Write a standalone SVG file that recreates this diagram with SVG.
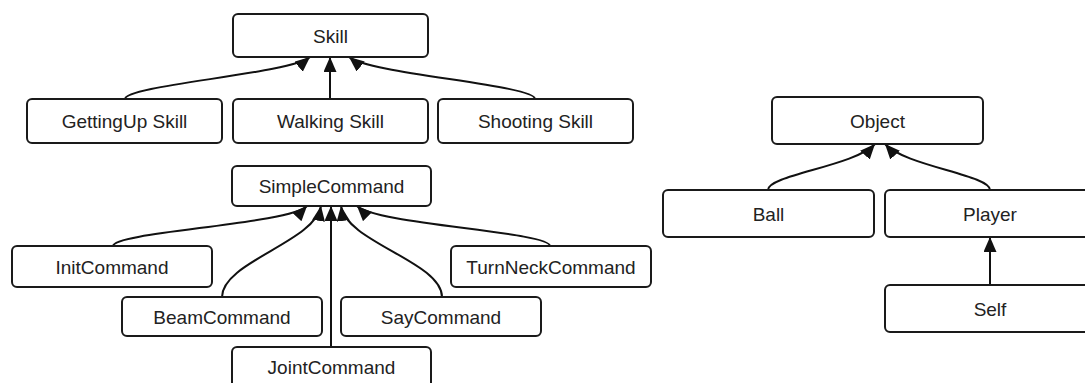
<svg xmlns="http://www.w3.org/2000/svg" width="1085" height="383" viewBox="0 0 1085 383">
<defs>
<marker id="arr" markerUnits="userSpaceOnUse" markerWidth="16" markerHeight="14" refX="15" refY="6.5" orient="auto">
<path d="M0,0 L15,6.5 L0,13 z" fill="#111"/>
</marker>
<style>
.box{fill:#fff;stroke:#1a1a1a;stroke-width:2}
.lbl{font-family:"Liberation Sans",Arial,sans-serif;font-size:19px;fill:#222;text-anchor:middle;dominant-baseline:central}
.con{fill:none;stroke:#111;stroke-width:2;marker-end:url(#arr)}
</style>
</defs>
<rect width="1085" height="383" fill="#fff"/>
<g id="connectors">
<path class="con" d="M125,99 C125,85 290,74 310,57"/>
<path class="con" d="M330,99 L330,57"/>
<path class="con" d="M535,99 C535,85 370,74 349,57"/>
<path class="con" d="M113,246 C113,232 290,224 307,206"/>
<path class="con" d="M222,297 C222,262 315,242 321,206"/>
<path class="con" d="M331,347 L331,206"/>
<path class="con" d="M442,297 C442,262 346,242 341,206"/>
<path class="con" d="M550,246 C550,232 375,224 357,206"/>
<path class="con" d="M768,190 C768,175 855,166 875,144"/>
<path class="con" d="M990,190 C990,175 905,166 885,144"/>
<path class="con" d="M990,285 L990,237"/>
</g>
<g id="skill"><rect class="box" x="233" y="14" width="195" height="43" rx="5"/><text class="lbl" x="330.5" y="36">Skill</text></g>
<g id="gettingup"><rect class="box" x="27" y="99" width="195" height="44" rx="5"/><text class="lbl" x="124.5" y="121">GettingUp Skill</text></g>
<g id="walking"><rect class="box" x="233" y="99" width="195" height="44" rx="5"/><text class="lbl" x="330.5" y="121">Walking Skill</text></g>
<g id="shooting"><rect class="box" x="438" y="99" width="195" height="44" rx="5"/><text class="lbl" x="535.5" y="121">Shooting Skill</text></g>
<g id="simplecommand"><rect class="box" x="232" y="166" width="199" height="40" rx="5"/><text class="lbl" x="331.5" y="186">SimpleCommand</text></g>
<g id="initcommand"><rect class="box" x="12" y="246" width="200" height="41" rx="5"/><text class="lbl" x="112" y="267">InitCommand</text></g>
<g id="turnneckcommand"><rect class="box" x="451" y="246" width="200" height="41" rx="5"/><text class="lbl" x="551" y="267">TurnNeckCommand</text></g>
<g id="beamcommand"><rect class="box" x="122" y="297" width="200" height="39" rx="5"/><text class="lbl" x="222" y="317">BeamCommand</text></g>
<g id="saycommand"><rect class="box" x="341" y="297" width="200" height="39" rx="5"/><text class="lbl" x="441" y="317">SayCommand</text></g>
<g id="jointcommand"><rect class="box" x="232" y="347" width="199" height="42" rx="5"/><text class="lbl" x="331.5" y="367">JointCommand</text></g>
<g id="object"><rect class="box" x="772" y="97" width="211" height="47" rx="5"/><text class="lbl" x="877.5" y="121">Object</text></g>
<g id="ball"><rect class="box" x="663" y="190" width="211" height="47" rx="5"/><text class="lbl" x="768.5" y="214">Ball</text></g>
<g id="player"><rect class="box" x="885" y="190" width="210" height="47" rx="5"/><text class="lbl" x="990" y="214">Player</text></g>
<g id="self"><rect class="box" x="885" y="285" width="210" height="47" rx="5"/><text class="lbl" x="990" y="309">Self</text></g>
</svg>
